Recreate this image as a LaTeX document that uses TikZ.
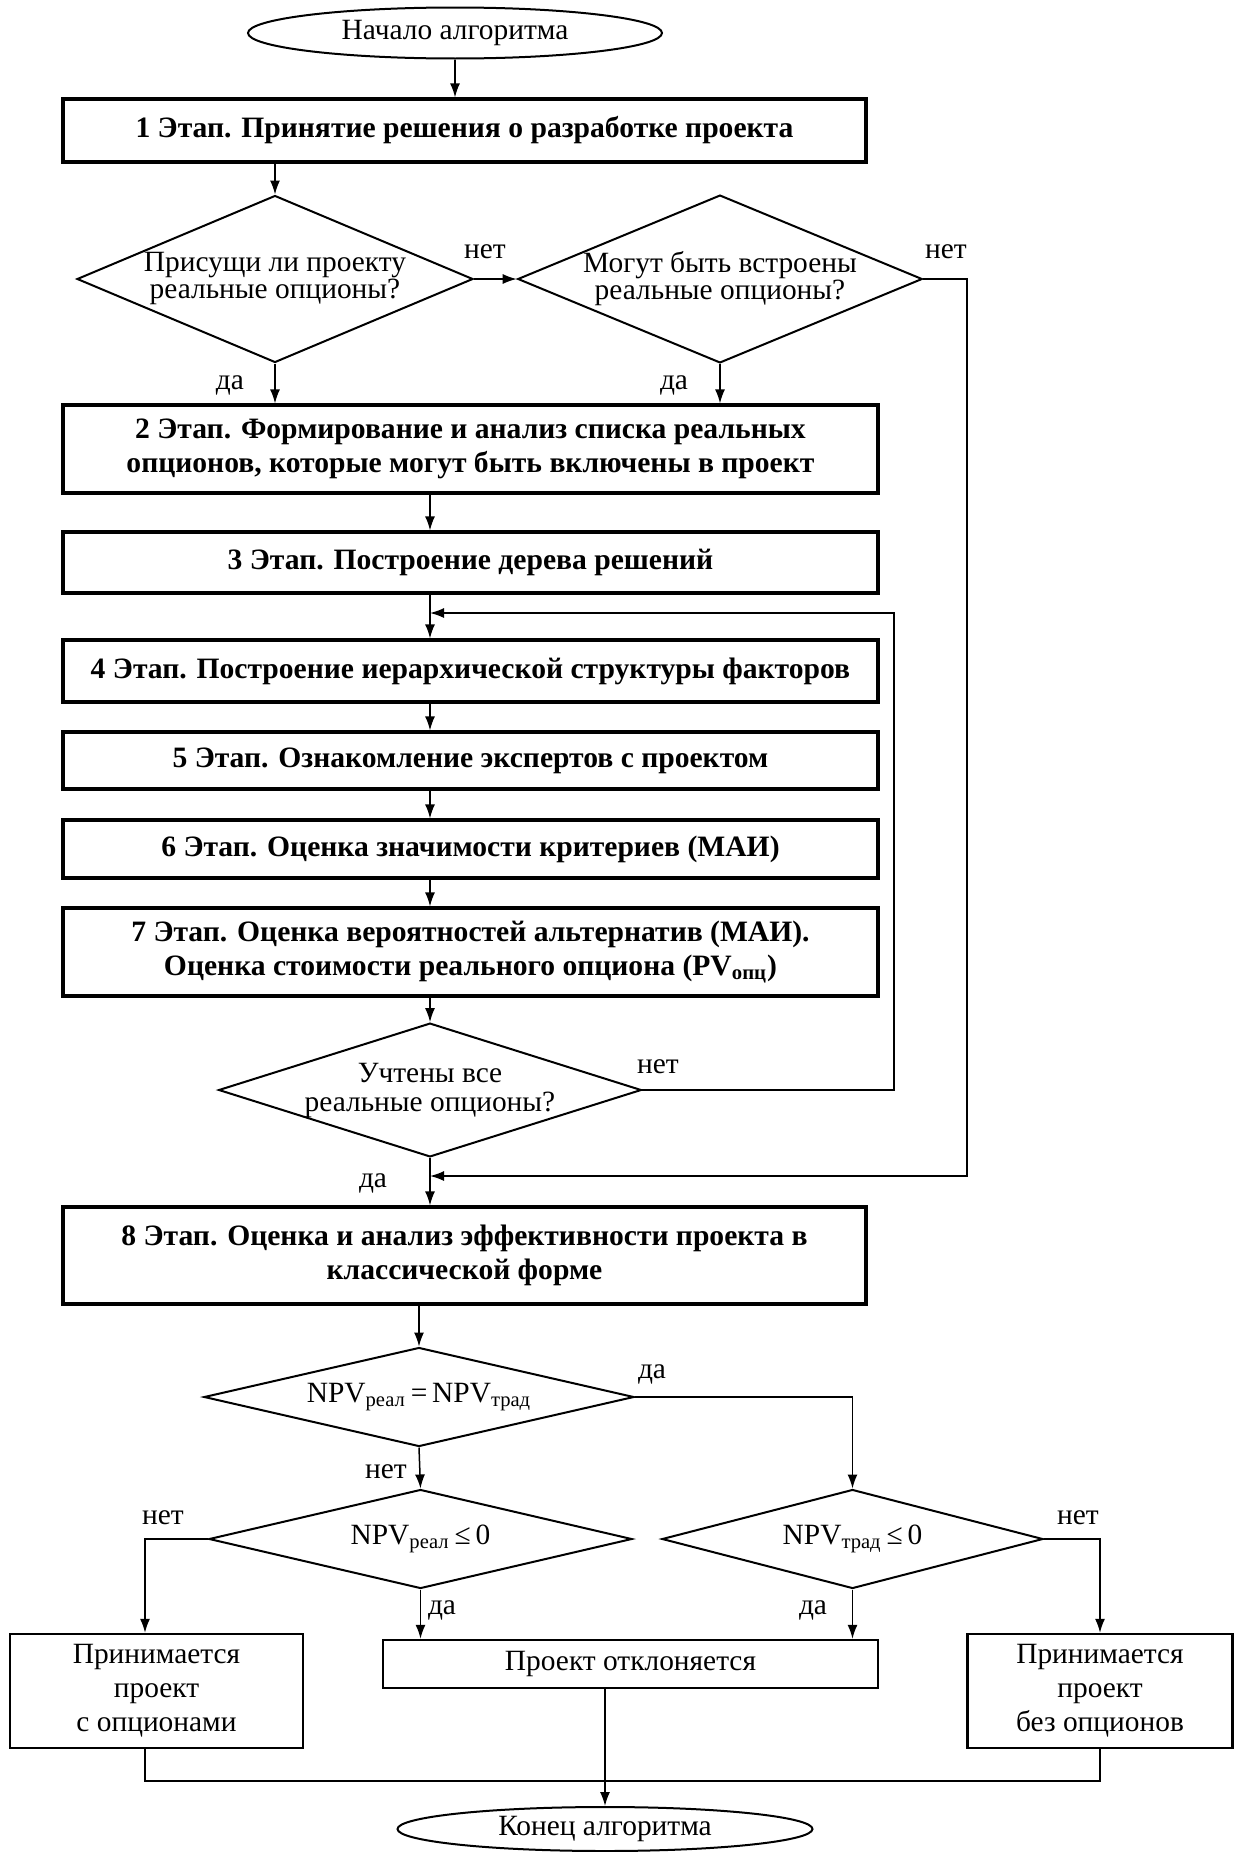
\documentclass[tikz,border=0pt]{standalone}
\usepackage{fontspec}
\setmainfont{Liberation Serif}
\usetikzlibrary{shapes.geometric,arrows.meta}

\begin{document}
\begin{tikzpicture}[x=0.5pt,y=-0.5pt]
\tikzstyle{stage}=[rectangle, draw=black, line width=1.6pt, minimum width=407.5pt, inner sep=0pt, align=center, font=\fontsize{14.8}{17}\selectfont\bfseries]
\tikzstyle{result}=[rectangle, draw=black, line width=1.2pt, inner sep=0pt, align=center, font=\fontsize{14.7}{17}\selectfont]
\tikzstyle{cond}=[diamond, draw=black, line width=1pt, inner sep=0pt, align=center, font=\fontsize{14.7}{13.5}\selectfont]
\tikzstyle{term}=[ellipse, draw=black, line width=1pt, inner sep=0pt, font=\fontsize{14.7}{17}\selectfont]
\tikzstyle{answer}=[inner sep=0pt, font=\fontsize{14.7}{17}\selectfont]
\tikzstyle{connect}=[-{Latex[length=7pt,width=5pt]}, line width=0.75pt]
\tikzstyle{line}=[line width=0.75pt]

	\useasboundingbox (0,0) rectangle (1237,1852);

	\node[term, minimum width=207pt, minimum height=25.5pt] (start) at (455,33) {Начало алгоритма};
	\node[stage, minimum width=401.5pt, minimum height=31.5pt] (s1) at (464.5,130.5) {1 Этап. Принятие решения о разработке проекта};

	\node[cond, aspect=2.37, minimum width=198pt, minimum height=83.5pt] (d1) at (275,279) {Присущи ли проекту\\реальные опционы?};
	\node[cond, aspect=2.41, minimum width=201pt, minimum height=83.5pt] (d2) at (720,279) {Могут быть встроены\\реальные опционы?};

	\node[stage, minimum height=44pt] (s2) at (470.5,449) {2 Этап. Формирование и анализ списка реальных\\опционов, которые могут быть включены в проект};
	\node[stage, minimum height=30.5pt] (s3) at (470.5,562.5) {3 Этап. Построение дерева решений};
	\node[stage, minimum height=31pt] (s4) at (470.5,671) {4 Этап. Построение иерархической структуры факторов};
	\node[stage, minimum height=28.5pt] (s5) at (470.5,760.5) {5 Этап. Ознакомление экспертов с проектом};
	\node[stage, minimum height=29pt] (s6) at (470.5,849) {6 Этап. Оценка значимости критериев (МАИ)};
	\node[stage, minimum height=44pt] (s7) at (470.5,952) {7 Этап. Оценка вероятностей альтернатив (МАИ).\\Оценка стоимости реального опциона (PV\textsubscript{опц})};

	\node[cond, aspect=3.16, minimum width=204pt, minimum height=64.5pt, font=\fontsize{14.7}{14.5}\selectfont] (d3) at (430,1090) {Учтены все\\реальные опционы?};

	\node[stage, minimum width=401.5pt, minimum height=48.5pt] (s8) at (464.5,1255.5) {8 Этап. Оценка и анализ эффективности проекта в\\классической форме};

	\node[cond, aspect=4.34, minimum width=215pt, minimum height=49.5pt] (d4) at (419,1397) {NPV\textsubscript{реал}\,=\,NPV\textsubscript{трад}};
	\node[cond, aspect=4.27, minimum width=211.5pt, minimum height=49.5pt] (d5) at (420.5,1539) {NPV\textsubscript{реал}\,≤\,0};
	\node[cond, aspect=3.85, minimum width=190.5pt, minimum height=49.5pt] (d6) at (852.5,1539) {NPV\textsubscript{трад}\,≤\,0};

	\node[result, minimum width=146.5pt, minimum height=57pt] (r1) at (156.5,1691) {Принимается\\проект\\с опционами};
	\node[result, minimum width=247.5pt, minimum height=24pt] (r2) at (630.5,1664) {Проект отклоняется};
	\node[result, minimum width=132.5pt, minimum height=57pt] (r3) at (1100,1691) {Принимается\\проект\\без опционов};

	\node[term, minimum width=207.5pt, minimum height=22pt] (end) at (605,1829) {Конец алгоритма};

	% labels
	\node[answer] (lno1) at (485,252) {нет};
	\node[answer] (lno2) at (946,252) {нет};
	\node[answer] (lyes1) at (230,385) {да};
	\node[answer] (lyes2) at (674,385) {да};
	\node[answer] (lno3) at (658,1067) {нет};
	\node[answer] (lyes3) at (373,1183) {да};
	\node[answer] (lyes4) at (652,1374) {да};
	\node[answer] (lno4) at (386,1472) {нет};
	\node[answer] (lno5) at (163,1518) {нет};
	\node[answer] (lno6) at (1078,1518) {нет};
	\node[answer] (lyes5) at (442,1610) {да};
	\node[answer] (lyes6) at (813,1610) {да};

	\coordinate (jr) at (967,279);
	\coordinate (jm) at (430,1176);
	\coordinate (jl) at (894,1090);
	\coordinate (jt) at (430,613);
	\coordinate (kl) at (145,1539);
	\coordinate (bl) at (145,1781);

	\path
		(start.south) edge[connect] (start.south |- s1.north)
		(d1.north |- s1.south) edge[connect] (d1.north)
		(d1.east) edge[connect] (d2.west)
		(d1.south) edge[connect] (d1.south |- s2.north)
		(d2.south) edge[connect] (d2.south |- s2.north)
		(s2.south -| d3.north) edge[connect] (s3.north -| d3.north)
		(s3.south -| d3.north) edge[connect] (s4.north -| d3.north)
		(s4.south -| d3.north) edge[connect] (s5.north -| d3.north)
		(s5.south -| d3.north) edge[connect] (s6.north -| d3.north)
		(s6.south -| d3.north) edge[connect] (s7.north -| d3.north)
		(s7.south -| d3.north) edge[connect] (d3.north)
		(d3.south) edge[connect] (d3.south |- s8.north)
		(d4.north |- s8.south) edge[connect] (d4.north)
		(d4.south) edge[connect] (d5.north)
		(d5.south) edge[connect] (d5.south |- r2.north)
		(d6.south) edge[connect] (d6.south |- r2.north)
		(end.north |- r2.south) edge[connect] (end.north);

	\draw[connect] (d2.east) -- (jr) -- (jr |- jm) -- (jm);
	\draw[connect] (d3.east) -- (jl) -- (jl |- jt) -- (jt);
	\draw[connect] (d4.east) -| (d6.north);
	\draw[connect] (d5.west) -- (kl) -- (kl |- r1.north);
	\draw[connect] (d6.east) -| (r3.north);
	\draw[line] (kl |- r1.south) -- (bl) -- (bl -| r3.south) -- (r3.south);

\end{tikzpicture}
\end{document}
